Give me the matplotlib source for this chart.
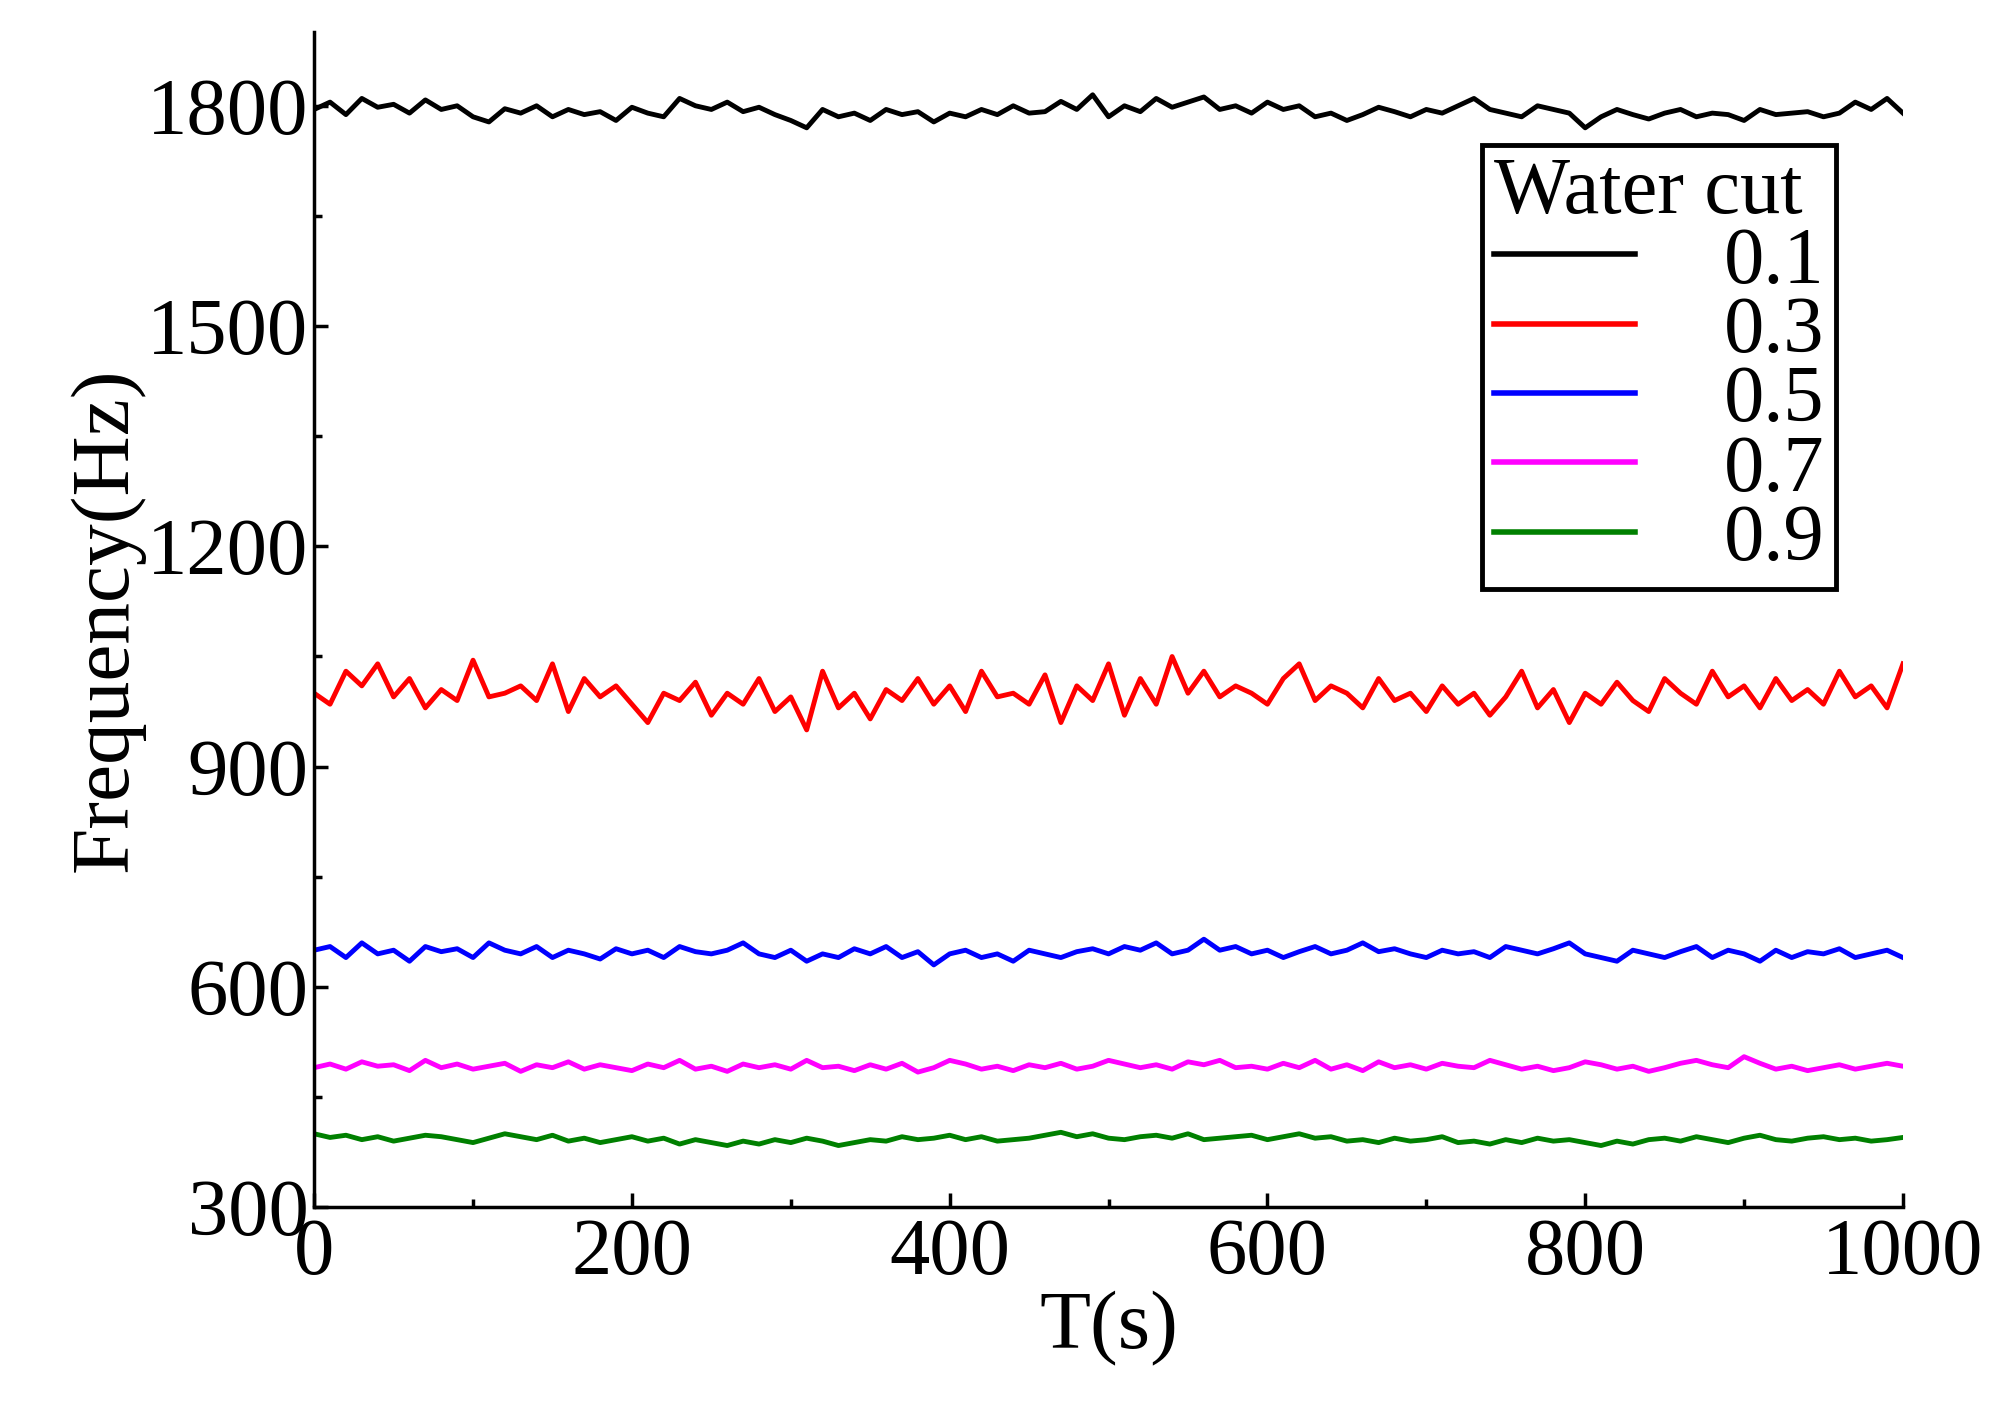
import numpy as np
import matplotlib
matplotlib.use("Agg")
import matplotlib.pyplot as plt
from matplotlib.ticker import MultipleLocator

labels = ["0.1", "0.3", "0.5", "0.7", "0.9"]
colors = ["black", "red", "blue", "magenta", "green"]
black = [1795,1805,1788,1810,1798,1802,1790,1808,1795,1800,1785,1778,1796,1790,1800,1785,1795,1788,1792,1780,1798,1790,1785,1810,1800,1795,1805,1792,1798,1788,1780,1770,1795,1785,1790,1780,1795,1788,1792,1778,1790,1785,1795,1788,1800,1790,1792,1806,1795,1815,1785,1800,1792,1810,1798,1805,1812,1795,1800,1790,1805,1795,1800,1785,1790,1780,1788,1798,1792,1785,1795,1790,1800,1810,1795,1790,1785,1800,1795,1790,1770,1785,1795,1788,1782,1790,1795,1785,1790,1788,1780,1795,1788,1790,1792,1785,1790,1805,1795,1810,1790]
red = [1000,985,1030,1010,1040,995,1020,980,1005,990,1045,995,1000,1010,990,1040,975,1020,995,1010,985,960,1000,990,1015,970,1000,985,1020,975,995,950,1030,980,1000,965,1005,990,1020,985,1010,975,1030,995,1000,985,1025,960,1010,990,1040,970,1020,985,1050,1000,1030,995,1010,1000,985,1020,1040,990,1010,1000,980,1020,990,1000,975,1010,985,1000,970,995,1030,980,1005,960,1000,985,1015,990,975,1020,1000,985,1030,995,1010,980,1020,990,1005,985,1030,995,1010,980,1040]
blue = [650,655,640,660,645,650,635,655,648,652,640,660,650,645,655,640,650,645,638,652,645,650,640,655,648,645,650,660,645,640,650,635,645,640,652,645,655,640,648,630,645,650,640,645,635,650,645,640,648,652,645,655,650,660,645,650,665,650,655,645,650,640,648,655,645,650,660,648,652,645,640,650,645,648,640,655,650,645,652,660,645,640,635,650,645,640,648,655,640,650,645,635,650,640,648,645,652,640,645,650,640]
magenta = [490,495,488,498,492,494,486,500,490,495,488,492,496,485,494,490,498,488,494,490,486,495,490,500,488,492,485,495,490,494,488,500,490,492,486,494,488,496,484,490,500,495,488,492,486,494,490,496,488,492,500,495,490,494,488,498,494,500,490,492,488,496,490,500,488,494,486,498,490,494,488,496,492,490,500,494,488,492,486,490,498,494,488,492,485,490,496,500,494,490,505,496,488,492,486,490,494,488,492,496,492]
green = [400,395,398,392,396,390,394,398,396,392,388,394,400,396,392,398,390,394,388,392,396,390,394,386,392,388,384,390,386,392,388,394,390,384,388,392,390,396,392,394,398,392,396,390,392,394,398,402,396,400,394,392,396,398,394,400,392,394,396,398,392,396,400,394,396,390,392,388,394,390,392,396,388,390,386,392,388,394,390,392,388,384,390,386,392,394,390,396,392,388,394,398,392,390,394,396,392,394,390,392,395]
series = [black, red, blue, magenta, green]

plt.rcParams['font.family'] = ['Liberation Serif', 'DejaVu Serif']
fig = plt.figure(figsize=(20.01, 14.07), dpi=100)
ax = fig.add_axes([0.157, 0.142, 0.794, 0.835])
for vals, c, l in zip(series, colors, labels):
    t = np.linspace(0, 1000, len(vals))
    ax.plot(t, vals, color=c, lw=3.5, label=l)
ax.set_xlim(0, 1000)
ax.set_ylim(300, 1900)
ax.set_xticks([0, 200, 400, 600, 800, 1000])
ax.set_yticks([300, 600, 900, 1200, 1500, 1800])
ax.xaxis.set_minor_locator(MultipleLocator(100))
ax.yaxis.set_minor_locator(MultipleLocator(150))
ax.tick_params(which='both', direction='in', width=2.5, labelsize=58)
ax.tick_params(axis='y', pad=4)
ax.tick_params(axis='x', pad=8)
ax.tick_params(which='major', length=10)
ax.tick_params(which='minor', length=6)
for s in ['top', 'right']:
    ax.spines[s].set_visible(False)
for s in ['left', 'bottom']:
    ax.spines[s].set_linewidth(2.5)
ax.set_xlabel("T(s)", fontsize=60, labelpad=0)
ax.set_ylabel("Frequency(Hz)", fontsize=60, labelpad=2)
leg = ax.legend(title="Water cut", fontsize=58, title_fontsize=58, loc='upper right',
                bbox_to_anchor=(0.958, 0.904), fancybox=False, edgecolor='black',
                handlelength=1.75, borderpad=0.15, labelspacing=-0.05,
                handletextpad=1.1, framealpha=1, borderaxespad=0)
leg._legend_box.align = "left"
leg.get_frame().set_linewidth(3.5)
for line in leg.get_lines():
    line.set_linewidth(4)
fig.savefig("out.png", dpi=100)
